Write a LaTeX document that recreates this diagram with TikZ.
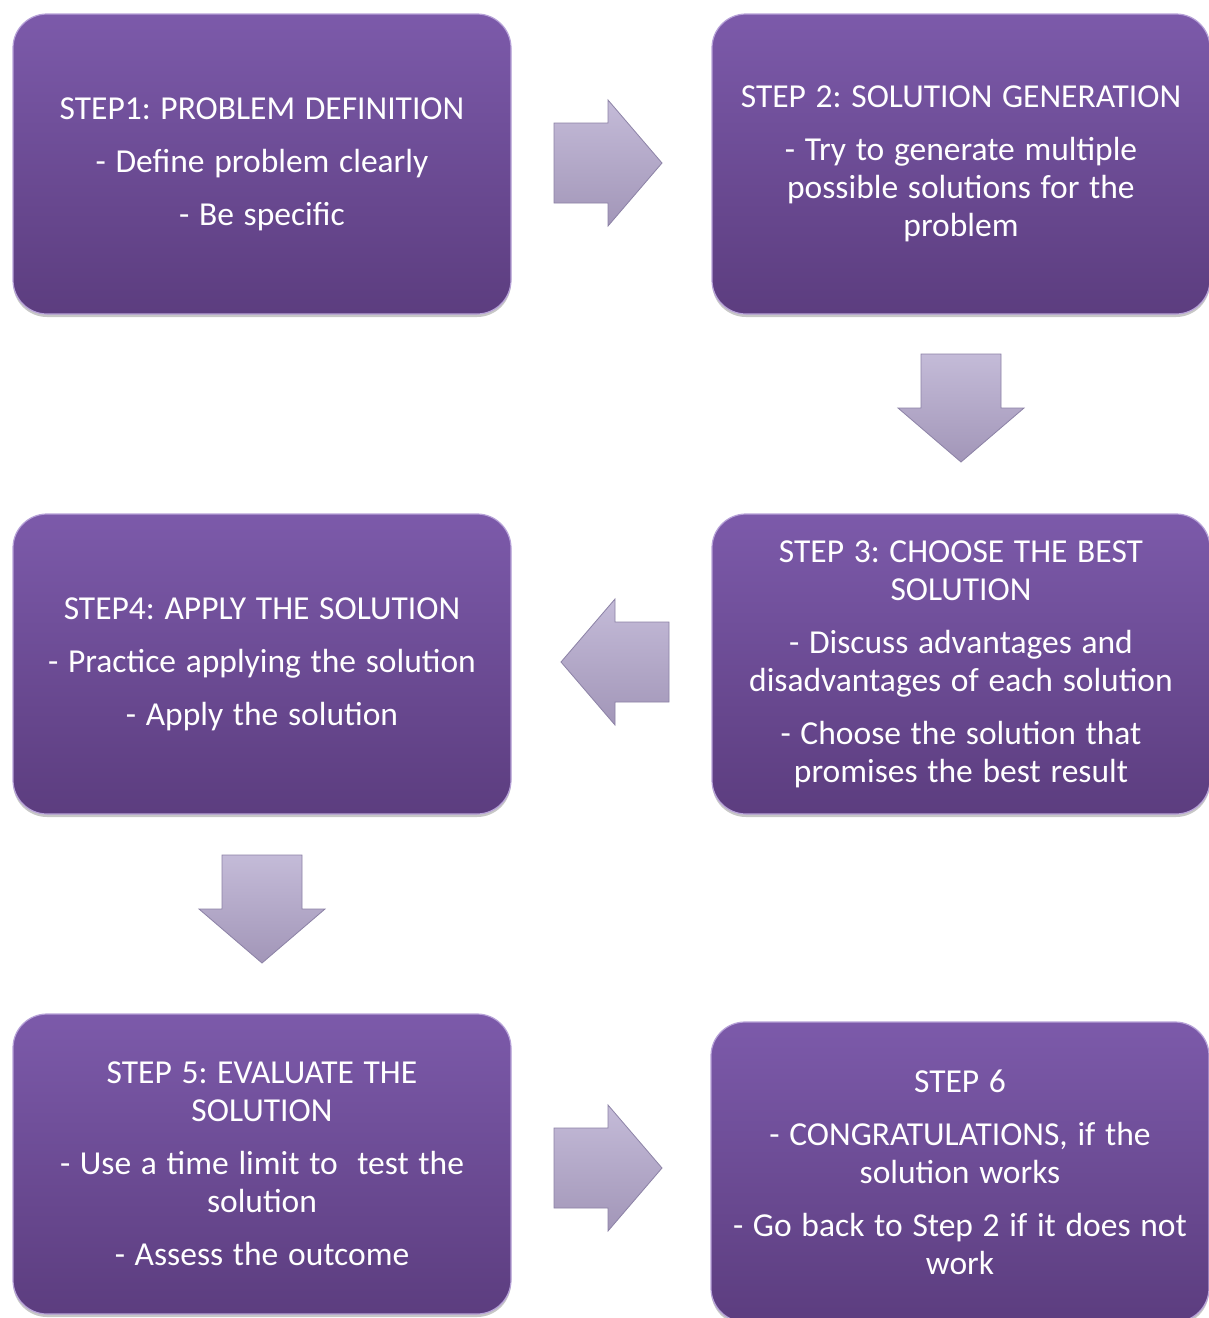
\documentclass[tikz,border=0pt]{standalone}
\usepackage{fontspec}
\setmainfont{Carlito}
\usetikzlibrary{calc}
\definecolor{boxtop}{HTML}{7C5AAA}
\definecolor{boxbot}{HTML}{5C3D7F}
\definecolor{boxedge}{HTML}{B7A2D8}
\definecolor{arrtop}{HTML}{C4BBD8}
\definecolor{arrbot}{HTML}{A296B8}
\definecolor{arredge}{HTML}{8C82A6}
\newcommand\tightwords{\spaceskip=0.29em\relax}
\tikzset{
  stepbox/.style={rounded corners=34pt, minimum width=498pt, minimum height=300pt,
    top color=boxtop, bottom color=boxbot, draw=boxedge, line width=1.2pt,
    text=white, align=center, text width=480pt, inner sep=0pt,
    font=\fontsize{33.5}{38}\selectfont\frenchspacing,
    execute at begin node=\tightwords},
  arrowfill/.style={top color=arrtop, bottom color=arrbot, draw=arredge, line width=0.8pt, line join=miter},
  shadowbox/.style={rounded corners=34pt, fill=black, opacity=0.22, minimum width=498pt, minimum height=300pt}
}
\newcommand\blockarrow[4]{% name, x, y, angle
  \coordinate (#1) at (#2,#3);
  \begin{scope}[shift={(#1)},rotate=#4]
    \path[arrowfill] (-54,-40) -- (0,-40) -- (0,-63) -- (54,0) -- (0,63) -- (0,40) -- (-54,40) -- cycle;
  \end{scope}}
\begin{document}
\begin{tikzpicture}[x=1pt,y=-1pt]
\useasboundingbox (0,0) rectangle (1209,1318);
\clip (0,0) rectangle (1209,1318);
\fill[white] (0,0) rectangle (1209,1318);
% shadows
\foreach \cx/\cy in {262/167, 961/167, 961/667, 262/667, 262/1167, 960/1175}
  \node[shadowbox] at (\cx,\cy) {};
% boxes
\node[stepbox] (s1) at (262,164) {STEP1: PROBLEM DEFINITION\\[15pt]- Define problem clearly\\[15pt]- Be specific};
\node[stepbox] (s2) at (961,164) {STEP 2: SOLUTION GENERATION\\[15pt]- Try to generate multiple\\possible solutions for the\\problem};
\node[stepbox] (s3) at (961,664) {STEP 3: CHOOSE THE BEST\\SOLUTION\\[15pt]- Discuss advantages and\\disadvantages of each solution\\[15pt]- Choose the solution that\\promises the best result};
\node[stepbox] (s4) at (262,664) {STEP4: APPLY THE SOLUTION\\[15pt]- Practice applying the solution\\[15pt]- Apply the solution};
\node[stepbox] (s5) at (262,1164) {STEP 5: EVALUATE THE\\SOLUTION\\[15pt]- Use a time limit to\ \ test the\\solution\\[15pt]- Assess the outcome};
\node[stepbox] (s6) at (960,1172) {STEP 6\\[15pt]- CONGRATULATIONS, if the\\solution works\\[15pt]- Go back to Step 2 if it does not\\work};
% block arrows
\blockarrow{a12}{608}{163}{0}
\blockarrow{a23}{961}{408}{-90}
\blockarrow{a34}{615}{662}{180}
\blockarrow{a45}{262}{909}{-90}
\blockarrow{a56}{608}{1168}{0}
\end{tikzpicture}
\end{document}
